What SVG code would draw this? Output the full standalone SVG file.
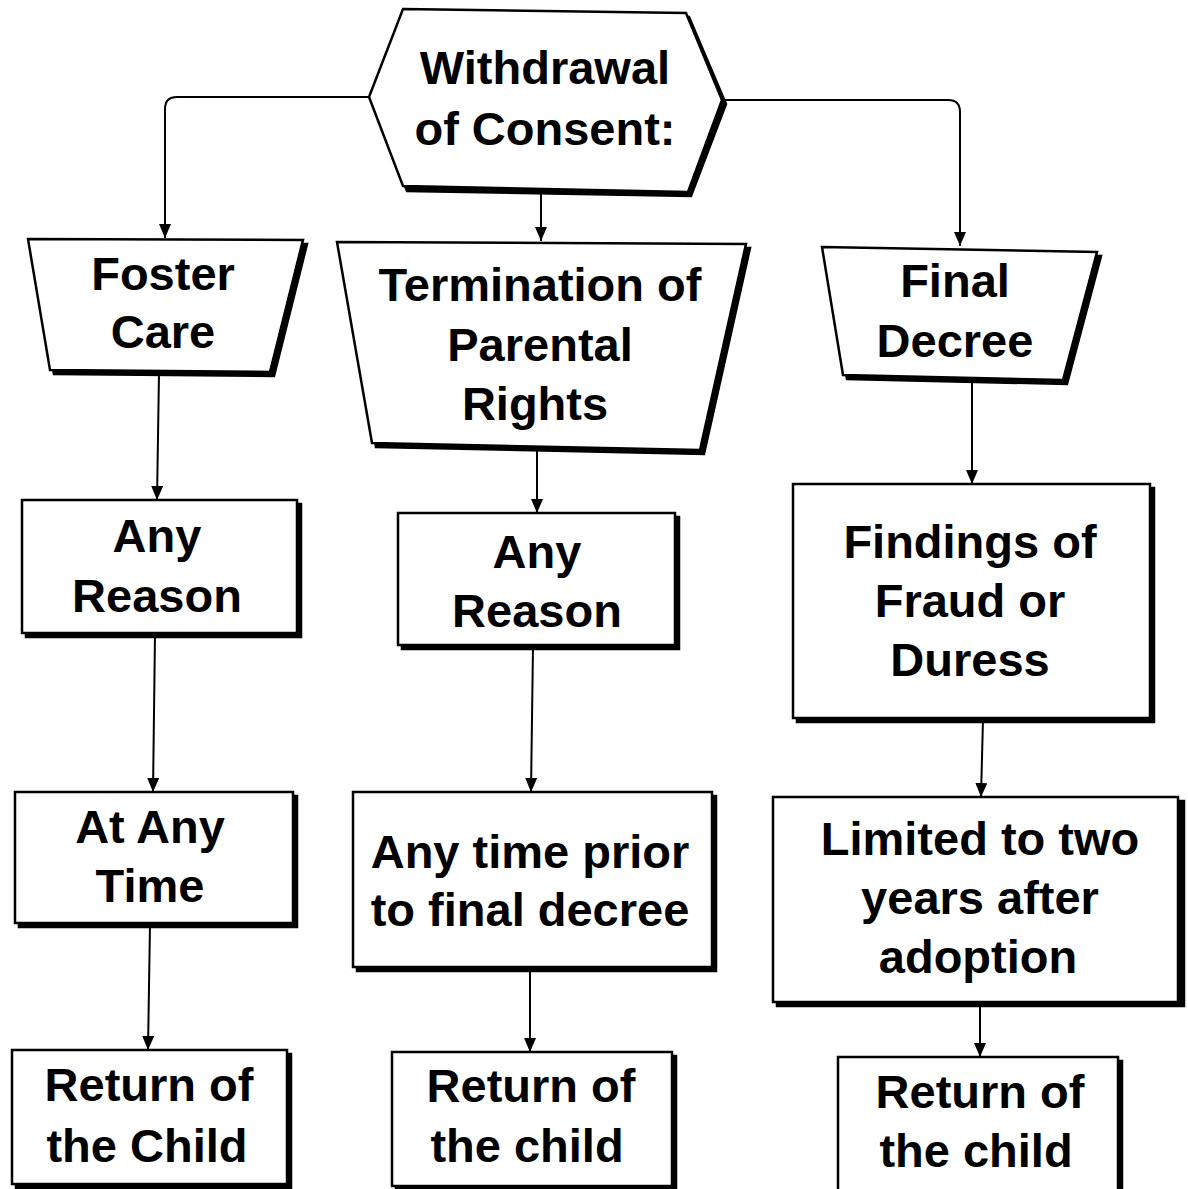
<svg xmlns="http://www.w3.org/2000/svg" width="1188" height="1189" viewBox="0 0 1188 1189">
<defs>
<style>
.shape{fill:#fff;stroke:#000;stroke-width:2.5;stroke-linejoin:miter}
.shadow{fill:#000;stroke:#000;stroke-width:2.5}
.lbl{font-family:"Liberation Sans",Arial,sans-serif;font-weight:bold;font-size:47px;fill:#000;text-anchor:middle}
.conn{fill:none;stroke:#000;stroke-width:2}
</style>
<marker id="arr" viewBox="0 0 14 12" refX="14" refY="6" markerWidth="14" markerHeight="12" markerUnits="userSpaceOnUse" orient="auto">
<path d="M0,0 L14,6 L0,12 Z" fill="#000"/>
</marker>
</defs>
<rect width="1188" height="1189" fill="#fff"/>

<g id="connectors">
<path class="conn" d="M370,97 L177,97 Q165,97 165,109 L165,238" marker-end="url(#arr)"/>
<path class="conn" d="M541,193 L541,241" marker-end="url(#arr)"/>
<path class="conn" d="M722,100 L948,100 Q960,100 960,112 L960,246" marker-end="url(#arr)"/>
<path class="conn" d="M159,373 L157,500" marker-end="url(#arr)"/>
<path class="conn" d="M155,634 L153,792" marker-end="url(#arr)"/>
<path class="conn" d="M150,924 L148,1050" marker-end="url(#arr)"/>
<path class="conn" d="M537,451 L537,513" marker-end="url(#arr)"/>
<path class="conn" d="M533,646 L531,792" marker-end="url(#arr)"/>
<path class="conn" d="M530,968 L530,1052" marker-end="url(#arr)"/>
<path class="conn" d="M972,381 L972,484" marker-end="url(#arr)"/>
<path class="conn" d="M983,719 L981,797" marker-end="url(#arr)"/>
<path class="conn" d="M980,1003 L980,1057" marker-end="url(#arr)"/>
</g>

<g id="withdrawal">
<polygon class="shadow" points="406,13 689,17 726,104 691,196 407,191 372,100"/>
<polygon class="shape" points="403,9 686,13 722,100 688,192 403,186 369,97"/>
<text class="lbl" x="545" y="84">Withdrawal</text>
<text class="lbl" x="545" y="145">of Consent:</text>
</g>

<g id="foster-care">
<polygon class="shadow" points="32,243 307,244 274,376 54,374"/>
<polygon class="shape" points="28,239 303,240 270,372 50,370"/>
<text class="lbl" x="163" y="290">Foster</text>
<text class="lbl" x="163" y="348">Care</text>
</g>

<g id="termination">
<polygon class="shadow" points="341,246 750,248 704,454 376,447"/>
<polygon class="shape" points="337,242 746,244 700,450 372,443"/>
<text class="lbl" x="540" y="301">Termination of</text>
<text class="lbl" x="540" y="361">Parental</text>
<text class="lbl" x="535" y="420">Rights</text>
</g>

<g id="final-decree">
<polygon class="shadow" points="826,251 1101,256 1067,384 847,379"/>
<polygon class="shape" points="822,247 1097,252 1063,380 843,375"/>
<text class="lbl" x="955" y="297">Final</text>
<text class="lbl" x="955" y="357">Decree</text>
</g>

<g id="any-reason-1">
<rect class="shadow" x="26" y="504" width="275" height="133"/>
<rect class="shape" x="22" y="500" width="275" height="133"/>
<text class="lbl" x="157" y="552">Any</text>
<text class="lbl" x="157" y="612">Reason</text>
</g>

<g id="any-reason-2">
<rect class="shadow" x="402" y="517" width="277" height="132"/>
<rect class="shape" x="398" y="513" width="277" height="132"/>
<text class="lbl" x="537" y="568">Any</text>
<text class="lbl" x="537" y="627">Reason</text>
</g>

<g id="findings">
<rect class="shadow" x="797" y="488" width="357" height="234"/>
<rect class="shape" x="793" y="484" width="357" height="234"/>
<text class="lbl" x="970" y="558">Findings of</text>
<text class="lbl" x="970" y="617">Fraud or</text>
<text class="lbl" x="970" y="676">Duress</text>
</g>

<g id="at-any-time">
<rect class="shadow" x="19" y="796" width="278" height="131"/>
<rect class="shape" x="15" y="792" width="278" height="131"/>
<text class="lbl" x="150" y="843">At Any</text>
<text class="lbl" x="150" y="902">Time</text>
</g>

<g id="any-time-prior">
<rect class="shadow" x="357" y="796" width="359" height="175"/>
<rect class="shape" x="353" y="792" width="359" height="175"/>
<text class="lbl" x="530" y="868">Any time prior</text>
<text class="lbl" x="530" y="926">to final decree</text>
</g>

<g id="limited">
<rect class="shadow" x="777" y="801" width="407" height="205"/>
<rect class="shape" x="773" y="797" width="405" height="205"/>
<text class="lbl" x="980" y="855">Limited to two</text>
<text class="lbl" x="980" y="914">years after</text>
<text class="lbl" x="978" y="973">adoption</text>
</g>

<g id="return-1">
<rect class="shadow" x="16" y="1054" width="275" height="136"/>
<rect class="shape" x="12" y="1050" width="275" height="134"/>
<text class="lbl" x="149" y="1101">Return of</text>
<text class="lbl" x="147" y="1162">the Child</text>
</g>

<g id="return-2">
<rect class="shadow" x="396" y="1056" width="280" height="134"/>
<rect class="shape" x="392" y="1052" width="280" height="134"/>
<text class="lbl" x="531" y="1102">Return of</text>
<text class="lbl" x="527" y="1162">the child</text>
</g>

<g id="return-3">
<rect class="shadow" x="842" y="1061" width="280" height="130"/>
<rect class="shape" x="838" y="1057" width="280" height="134"/>
<text class="lbl" x="980" y="1108">Return of</text>
<text class="lbl" x="976" y="1167">the child</text>
</g>
</svg>
